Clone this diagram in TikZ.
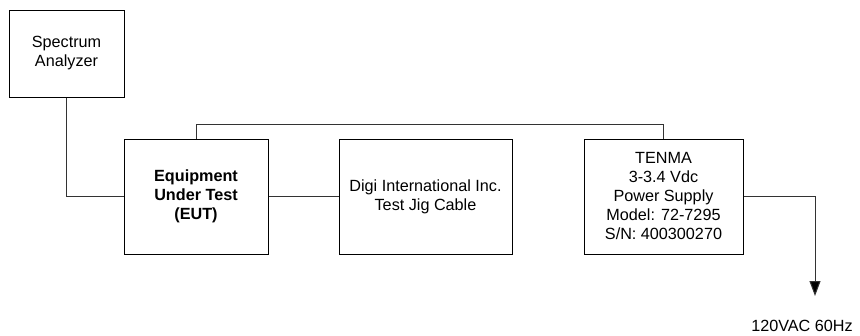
\documentclass[tikz,border=0pt]{standalone}
\usepackage{fontspec}
\setmainfont{Liberation Sans}
\usetikzlibrary{arrows.meta, positioning}

\begin{document}
\begin{tikzpicture}[
    x=1pt, y=-1pt,
    box/.style={draw, line width=1pt, rectangle, inner sep=2pt, align=center, font=\fontsize{16.2}{19}\selectfont},
    wire/.style={line width=1pt, draw=black!80},
    arr/.style={wire, -{Triangle[width=11pt, length=15pt, fill=black]}}
]
\useasboundingbox (0,0) rectangle (860,335);
\node[box, minimum width=115pt, minimum height=87pt] (sa) at (66.5, 53.5) {Spectrum\\Analyzer};
\node[box, minimum width=144pt, minimum height=115pt] (eut) at (196, 196.5) {\textbf{Equipment}\\\textbf{Under Test}\\\textbf{(EUT)}};
\node[box, minimum width=173pt, minimum height=115pt] (jig) at (425.5, 196.5) {Digi International Inc.\\Test Jig Cable};
\node[box, minimum width=159pt, minimum height=115pt] (psu) at (663.5, 196.5) {TENMA\\3-3.4 Vdc\\Power Supply\\Model: 72-7295\\S/N: 400300270};
\node[font=\fontsize{16.2}{19}\selectfont, inner sep=0pt] (ac) at (802, 326) {120VAC 60Hz};
\coordinate (mains) at (815, 296);
\draw[wire] (sa.south) |- (eut.west);
\draw[wire] (eut) -- (jig);
\draw[wire] (eut.north) -- ++(0,-14) -| (psu.north);
\draw[arr] (psu.east) -| (mains);
\end{tikzpicture}
\end{document}
